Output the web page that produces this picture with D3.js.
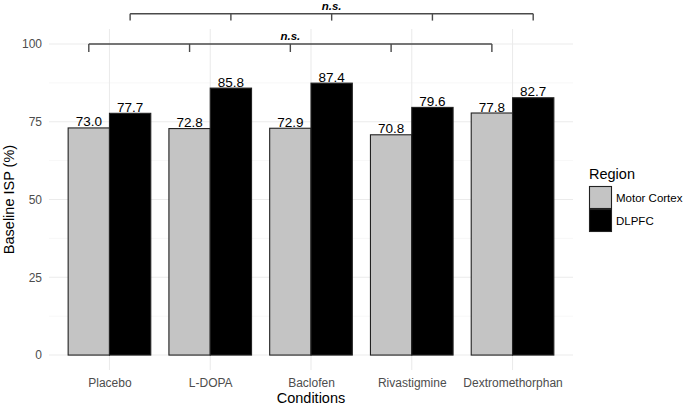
<!DOCTYPE html>
<html>
<head>
<meta charset="utf-8">
<script src="https://cdn.jsdelivr.net/npm/d3@7"></script>
<style>
  html, body { margin: 0; padding: 0; background: #fff; }
  svg { display: block; font-family: "Liberation Sans", Arial, sans-serif; }
</style>
</head>
<body>
<svg id="chart" width="685" height="405"></svg>
<script>
// Baseline ISP by condition and region, with n.s. comparison brackets.
const CONDITIONS = ["Placebo", "L-DOPA", "Baclofen", "Rivastigmine", "Dextromethorphan"];
const REGIONS = ["Motor Cortex", "DLPFC"];
const MOTOR = [73.0, 72.8, 72.9, 70.8, 77.8];
const DLPFC = [77.7, 85.8, 87.4, 79.6, 82.7];
const Y_TICKS = [0, 25, 50, 75, 100];
const Y_MINOR = [12.5, 37.5, 62.5, 87.5];
// brackets: which region's bars they join, line level, tick bottom, label level
const BRACKETS = [
  { region: "Motor Cortex", y: 100, tick: 97.4, labelY: 101.4, label: "n.s." },
  { region: "DLPFC", y: 109.7, tick: 107.5, labelY: 110.9, label: "n.s." },
];
const REGION_FILL = { "Motor Cortex": "#c4c4c4", "DLPFC": "#000000" };

const svg = d3.select("#chart");
const P = { l: 49, r: 573, t: 29, b: 370 };

const x = d3.scalePoint().domain(CONDITIONS).range([P.l, P.r]).padding(0.6);
const y = d3.scaleLinear().domain([-4.8, 104.8]).range([P.b, P.t]);
const barW = x.step() * 0.82;
const xr = d3.scaleBand().domain(REGIONS).range([-barW / 2, barW / 2]);

// ---- grid ----
const grid = svg.append("g");
grid.selectAll("line.minor").data(Y_MINOR).join("line")
  .attr("x1", P.l).attr("x2", P.r)
  .attr("y1", (d) => y(d)).attr("y2", (d) => y(d))
  .attr("stroke", "#f2f2f2").attr("stroke-width", 0.6);
grid.selectAll("line.major").data(Y_TICKS).join("line")
  .attr("x1", P.l).attr("x2", P.r)
  .attr("y1", (d) => y(d)).attr("y2", (d) => y(d))
  .attr("stroke", "#ebebeb").attr("stroke-width", 1.1);
grid.selectAll("line.vert").data(CONDITIONS).join("line")
  .attr("x1", (d) => x(d)).attr("x2", (d) => x(d))
  .attr("y1", P.t).attr("y2", P.b)
  .attr("stroke", "#ebebeb").attr("stroke-width", 1.1);

// ---- bars ----
const rows = [];
CONDITIONS.forEach((c, i) => {
  rows.push({ c, region: "Motor Cortex", v: MOTOR[i] });
  rows.push({ c, region: "DLPFC", v: DLPFC[i] });
});
svg.append("g").selectAll("rect").data(rows).join("rect")
  .attr("x", (d) => x(d.c) + xr(d.region))
  .attr("width", xr.bandwidth())
  .attr("y", (d) => y(d.v))
  .attr("height", (d) => y(0) - y(d.v))
  .attr("fill", (d) => REGION_FILL[d.region])
  .attr("stroke", "#222").attr("stroke-width", 1.1);

svg.append("g").selectAll("text").data(rows).join("text")
  .attr("x", (d) => x(d.c) + xr(d.region) + xr.bandwidth() / 2)
  .attr("y", (d) => y(d.v) - 1.5)
  .attr("text-anchor", "middle")
  .style("font-size", "13.5px").style("fill", "#000")
  .text((d) => d.v.toFixed(1));

// ---- brackets ----
const bg = svg.append("g");
BRACKETS.forEach((b) => {
  const xs = CONDITIONS.map((c) => x(c) + xr(b.region) + xr.bandwidth() / 2);
  bg.append("line")
    .attr("x1", xs[0]).attr("x2", xs[xs.length - 1])
    .attr("y1", y(b.y)).attr("y2", y(b.y))
    .attr("stroke", "#4a4a4a").attr("stroke-width", 1.4);
  bg.selectAll(null).data(xs).join("line")
    .attr("x1", (d) => d).attr("x2", (d) => d)
    .attr("y1", y(b.y)).attr("y2", y(b.tick))
    .attr("stroke", "#4a4a4a").attr("stroke-width", 1.4);
  bg.append("text")
    .attr("x", (xs[0] + xs[xs.length - 1]) / 2).attr("y", y(b.labelY))
    .attr("text-anchor", "middle")
    .style("font-size", "11.5px").style("font-weight", "bold")
    .style("font-style", "italic").style("fill", "#000")
    .text(b.label);
});

// ---- axes ----
const yAxis = svg.append("g")
  .attr("transform", `translate(${P.l},0)`)
  .call(d3.axisLeft(y).tickValues(Y_TICKS).tickSize(0).tickPadding(7));
yAxis.select(".domain").remove();
yAxis.selectAll("text").style("font-size", "12px").style("fill", "#4d4d4d")
  .style("font-family", "Liberation Sans, Arial, sans-serif");

const xAxis = svg.append("g")
  .attr("transform", `translate(0,${P.b})`)
  .call(d3.axisBottom(x).tickSize(0).tickPadding(8));
xAxis.select(".domain").remove();
xAxis.selectAll("text").style("font-size", "12px").style("fill", "#4d4d4d")
  .style("font-family", "Liberation Sans, Arial, sans-serif");

svg.append("text")
  .attr("x", (P.l + P.r) / 2).attr("y", 403)
  .attr("text-anchor", "middle")
  .style("font-size", "14.5px").style("fill", "#000")
  .text("Conditions");

svg.append("text")
  .attr("transform", `translate(14,${(P.t + P.b) / 2}) rotate(-90)`)
  .attr("text-anchor", "middle")
  .style("font-size", "14.5px").style("fill", "#000")
  .text("Baseline ISP (%)");

// ---- legend ----
const lg = svg.append("g").attr("transform", "translate(589,163)");
lg.append("text").attr("x", 0).attr("y", 16)
  .style("font-size", "14.5px").style("fill", "#000").text("Region");
REGIONS.forEach((r, i) => {
  const yy = 23 + i * 23;
  lg.append("rect").attr("x", 0.5).attr("y", yy + 0.5)
    .attr("width", 22).attr("height", 22)
    .attr("fill", REGION_FILL[r]).attr("stroke", "#222").attr("stroke-width", 1.1);
  lg.append("text").attr("x", 27).attr("y", yy + 15.5)
    .style("font-size", "11.5px").style("fill", "#000").text(r);
});
</script>
</body>
</html>
